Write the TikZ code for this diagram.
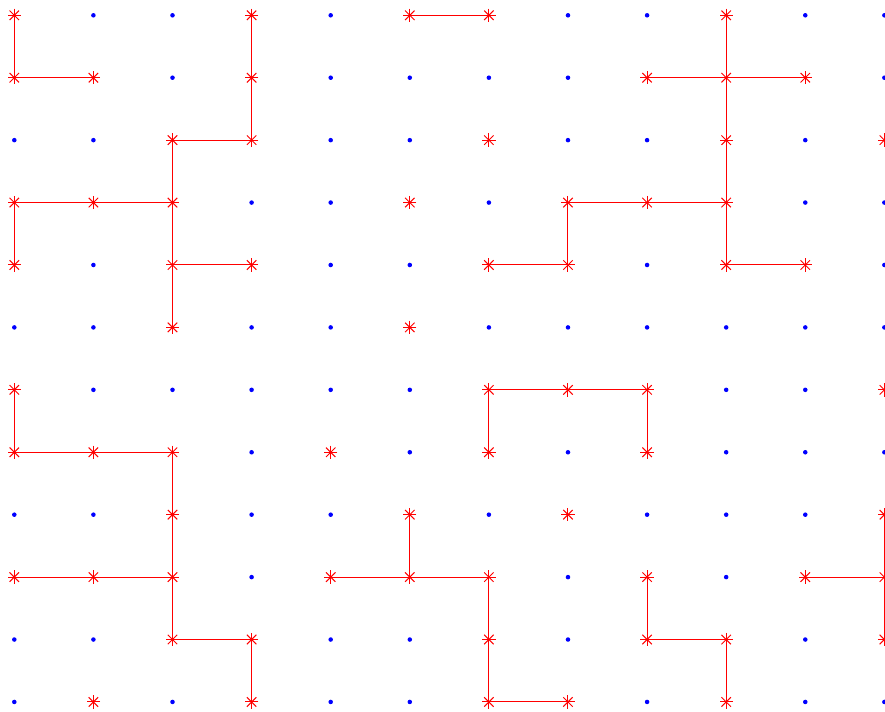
\documentclass[tikz,border=0pt]{standalone}

\begin{document}
\begin{tikzpicture}[x=59.3pt,y=-46.8pt,
  bond/.style={red,line width=0.75pt},
  dot/.style={fill=blue},
  ast/.pic={\foreach \a in {0,45,90,135} \draw[bond] (\a:5pt) -- (\a+180:5pt);}]
  \useasboundingbox (-0.181,-0.245) rectangle (11.008,11.149);
  \clip (-0.181,-0.245) rectangle (11.008,11.149);
  \foreach \c in {0,...,11}
    \foreach \r in {0,...,11}
      \coordinate (p\c-\r) at (\c,\r);
  \foreach \r/\cols in {0/{0,3,5,6,9},1/{0,1,3,8,9,10},2/{2,3,6,9,11},
      3/{0,1,2,5,7,8,9},4/{0,2,3,6,7,9,10},5/{2,5},6/{0,6,7,8,11},
      7/{0,1,2,4,6,8},8/{2,5,7,11},9/{0,1,2,4,5,6,8,10,11},
      10/{2,3,6,8,9,11},11/{1,3,6,7,9}}
    \foreach \c in \cols
      \expandafter\gdef\csname occ\c-\r\endcsname{};
  \draw[bond] (p0-0) -- (p0-1) -- (p1-1);
  \draw[bond] (p3-0) -- (p3-1) -- (p3-2) -- (p2-2) -- (p2-3) -- (p2-4) -- (p2-5);
  \draw[bond] (p0-4) -- (p0-3) -- (p1-3) -- (p2-3);
  \draw[bond] (p2-4) -- (p3-4);
  \draw[bond] (p5-0) -- (p6-0);
  \draw[bond] (p9-0) -- (p9-1) -- (p9-2) -- (p9-3) -- (p9-4) -- (p10-4);
  \draw[bond] (p8-1) -- (p9-1) -- (p10-1);
  \draw[bond] (p9-3) -- (p8-3) -- (p7-3) -- (p7-4) -- (p6-4);
  \draw[bond] (p0-6) -- (p0-7) -- (p1-7) -- (p2-7) -- (p2-8) -- (p2-9) -- (p2-10) -- (p3-10) -- (p3-11);
  \draw[bond] (p0-9) -- (p1-9) -- (p2-9);
  \draw[bond] (p6-7) -- (p6-6) -- (p7-6) -- (p8-6) -- (p8-7);
  \draw[bond] (p5-8) -- (p5-9);
  \draw[bond] (p4-9) -- (p5-9) -- (p6-9) -- (p6-10) -- (p6-11) -- (p7-11);
  \draw[bond] (p8-9) -- (p8-10) -- (p9-10) -- (p9-11);
  \draw[bond] (p11-8) -- (p11-9) -- (p11-10);
  \draw[bond] (p10-9) -- (p11-9);
  \foreach \c in {0,...,11}
    \foreach \r in {0,...,11} {
      \ifcsname occ\c-\r\endcsname
        \pic at (p\c-\r) {ast};
      \else
        \fill[dot] (p\c-\r) circle (1.7pt);
      \fi
    }
\end{tikzpicture}
\end{document}
